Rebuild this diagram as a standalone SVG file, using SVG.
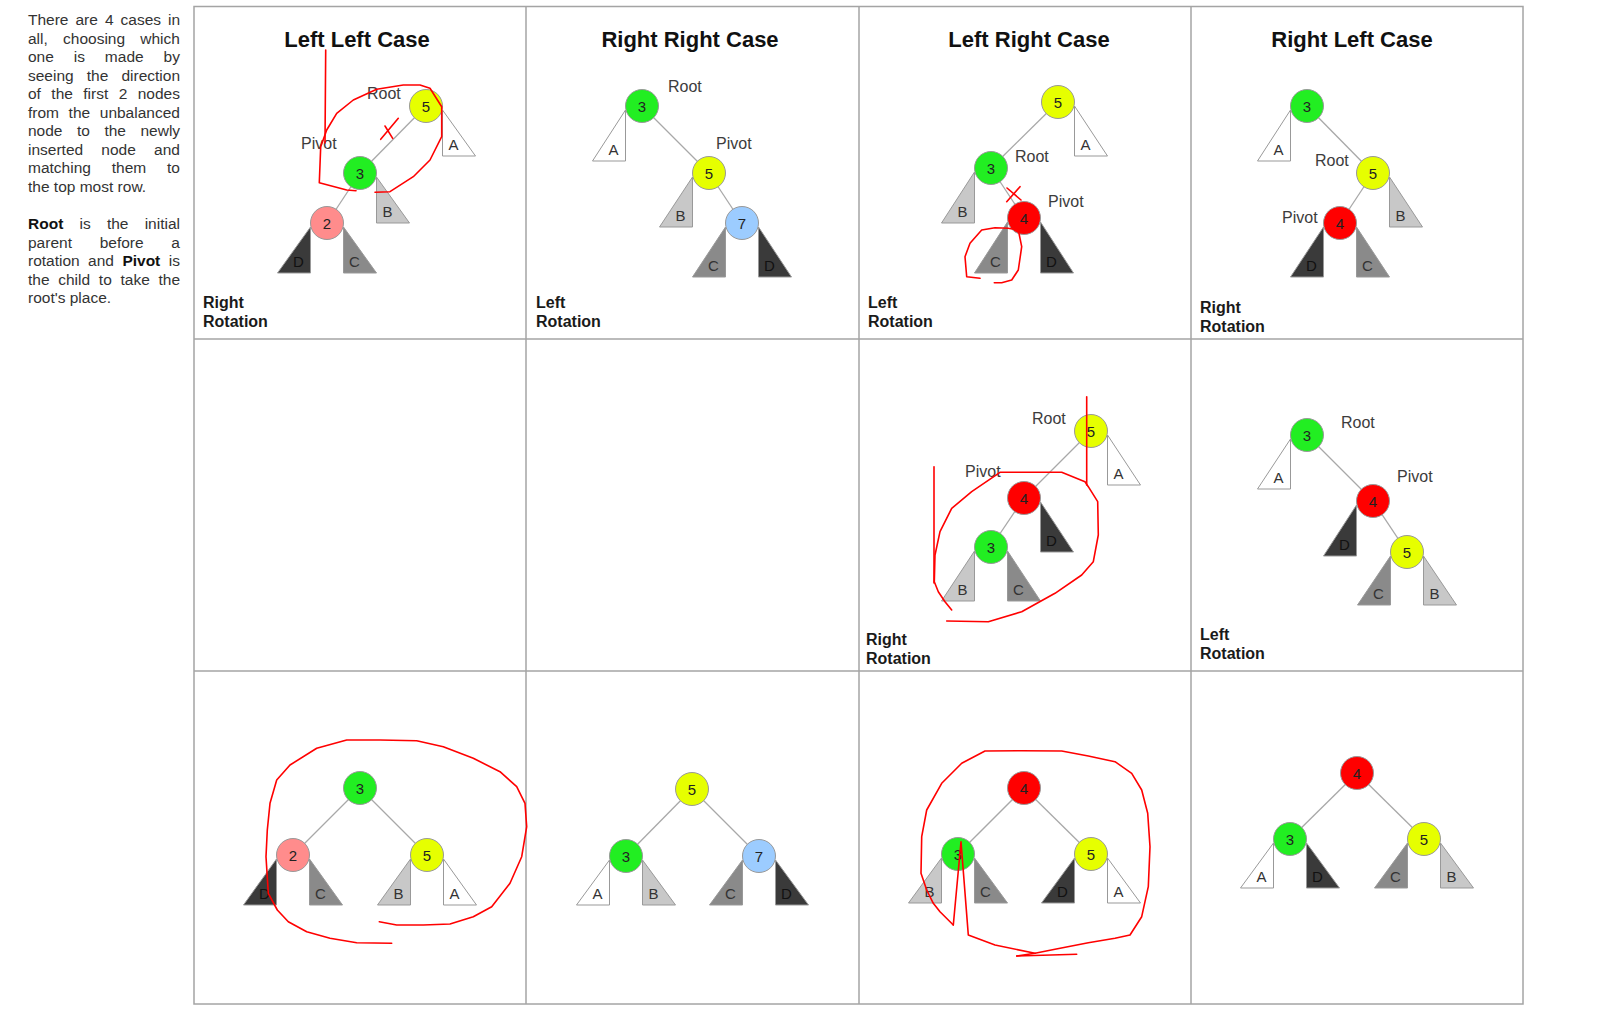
<svg xmlns="http://www.w3.org/2000/svg" width="1615" height="1017" viewBox="0 0 1615 1017">
<style>
.bg{fill:#fff}
.grid{fill:none;stroke:#a4a4a4;stroke-width:1.5}
.edge{stroke:#a8a8a8;stroke-width:1.3}
.nc{stroke:#999;stroke-width:1}
.nt{font-family:"Liberation Sans",Arial,sans-serif;font-size:15px;fill:#222;text-anchor:middle}
.tp{stroke:#999;stroke-width:1}
.tt{font-family:"Liberation Sans",Arial,sans-serif;font-size:15px;fill:#333;text-anchor:middle}
.td{fill:#111}
.y{fill:#e6ff00}.g{fill:#22ee22}.p{fill:#ff8c8c}.r{fill:#ff0000}.b{fill:#9cccff}
.fA{fill:#fff}.fB{fill:#c8c8c8}.fC{fill:#8a8a8a}.fD{fill:#3a3a3a}
.lbl{font-family:"Liberation Sans",Arial,sans-serif;font-size:16px;fill:#3c3c3c}
.title{font-family:"Liberation Sans",Arial,sans-serif;font-size:22px;font-weight:bold;fill:#111;text-anchor:middle}
.rot{font-family:"Liberation Sans",Arial,sans-serif;font-size:16px;font-weight:bold;fill:#1a1a1a}
.para{font-family:"Liberation Sans",Arial,sans-serif;font-size:15.5px;fill:#333}
.bold{font-weight:bold;fill:#111}
.red{fill:none;stroke:#ff0000;stroke-width:1.6;stroke-linejoin:round;stroke-linecap:round}
</style>
<rect class="bg" x="0" y="0" width="1615" height="1017"/>

<g id="explanation" class="para">
<text x="28" y="25" style="word-spacing:2.7px">There are 4 cases in</text>
<text x="28" y="43.5" style="word-spacing:10.9px">all, choosing which</text>
<text x="28" y="62" style="word-spacing:15.6px">one is made by</text>
<text x="28" y="80.5" style="word-spacing:8.8px">seeing the direction</text>
<text x="28" y="99" style="word-spacing:6.1px">of the first 2 nodes</text>
<text x="28" y="117.5" style="word-spacing:5.3px">from the unbalanced</text>
<text x="28" y="136" style="word-spacing:10.2px">node to the newly</text>
<text x="28" y="154.5" style="word-spacing:13.9px">inserted node and</text>
<text x="28" y="173" style="word-spacing:16.5px">matching them to</text>
<text x="28" y="191.5">the top most row.</text>
<text x="28" y="229" style="word-spacing:11.9px"><tspan class="bold">Root</tspan> is the initial</text>
<text x="28" y="247.5" style="word-spacing:23.4px">parent before a</text>
<text x="28" y="266" style="word-spacing:4.1px">rotation and <tspan class="bold">Pivot</tspan> is</text>
<text x="28" y="284.5" style="word-spacing:4.4px">the child to take the</text>
<text x="28" y="303">root's place.</text>
</g>

<g id="grid" class="grid">
<rect x="194" y="6.5" width="1329" height="997.5"/>
<line x1="526" y1="6.5" x2="526" y2="1004"/>
<line x1="859" y1="6.5" x2="859" y2="1004"/>
<line x1="1191" y1="6.5" x2="1191" y2="1004"/>
<line x1="194" y1="339" x2="1523" y2="339"/>
<line x1="194" y1="671" x2="1523" y2="671"/>
</g>

<g id="titles">
<text class="title" x="357" y="47">Left Left Case</text>
<text class="title" x="690" y="47">Right Right Case</text>
<text class="title" x="1029" y="47">Left Right Case</text>
<text class="title" x="1352" y="47">Right Left Case</text>
<text class="rot" x="203" y="308">Right</text><text class="rot" x="203" y="327">Rotation</text>
<text class="rot" x="536" y="308">Left</text><text class="rot" x="536" y="327">Rotation</text>
<text class="rot" x="868" y="308">Left</text><text class="rot" x="868" y="327">Rotation</text>
<text class="rot" x="1200" y="313">Right</text><text class="rot" x="1200" y="332">Rotation</text>
<text class="rot" x="866" y="645">Right</text><text class="rot" x="866" y="664">Rotation</text>
<text class="rot" x="1200" y="640">Left</text><text class="rot" x="1200" y="659">Rotation</text>
</g>

<g id="connectors" class="edge">
<line x1="426" y1="106" x2="360" y2="173"/><line x1="360" y1="173" x2="327" y2="223"/>
<line x1="642" y1="106" x2="709" y2="173"/><line x1="709" y1="173" x2="742" y2="223"/>
<line x1="1058" y1="102" x2="991" y2="168"/><line x1="991" y1="168" x2="1024" y2="218"/>
<line x1="1307" y1="106" x2="1373" y2="173"/><line x1="1373" y1="173" x2="1340" y2="223"/>
<line x1="1091" y1="431" x2="1024" y2="498"/><line x1="1024" y1="498" x2="991" y2="547"/>
<line x1="1307" y1="435" x2="1373" y2="501"/><line x1="1373" y1="501" x2="1407" y2="552"/>
<line x1="360" y1="788" x2="293" y2="855"/><line x1="360" y1="788" x2="427" y2="855"/>
<line x1="692" y1="789" x2="626" y2="856"/><line x1="692" y1="789" x2="759" y2="856"/>
<line x1="1024" y1="788" x2="958" y2="854"/><line x1="1024" y1="788" x2="1091" y2="854"/>
<line x1="1357" y1="773" x2="1290" y2="839"/><line x1="1357" y1="773" x2="1424" y2="839"/>
</g>

<!-- subtrees -->
<g id="subtrees">
<!-- cell 1,1 -->
<g id="t11A"><polygon class="tp fA" points="442.5,110 442.5,156 475.5,156"/><text class="tt" x="453.5" y="149.5">A</text></g>
<g id="t11B"><polygon class="tp fB" points="376.5,177 376.5,223 409.5,223"/><text class="tt" x="387.5" y="216.5">B</text></g>
<g id="t11D"><polygon class="tp fD" points="310.5,227 310.5,273 277.5,273"/><text class="tt td" x="298.5" y="266.5">D</text></g>
<g id="t11C"><polygon class="tp fC" points="343.5,227 343.5,273 376.5,273"/><text class="tt" x="354.5" y="266.5">C</text></g>
<!-- cell 1,2 -->
<g id="t12A"><polygon class="tp fA" points="625.5,110 625.5,161 592.5,161"/><text class="tt" x="613.5" y="154.5">A</text></g>
<g id="t12B"><polygon class="tp fB" points="692.5,177 692.5,227 659.5,227"/><text class="tt" x="680.5" y="220.5">B</text></g>
<g id="t12C"><polygon class="tp fC" points="725.5,227 725.5,277 692.5,277"/><text class="tt" x="713.5" y="270.5">C</text></g>
<g id="t12D"><polygon class="tp fD" points="758.5,227 758.5,277 791.5,277"/><text class="tt td" x="769.5" y="270.5">D</text></g>
<!-- cell 1,3 -->
<g id="t13A"><polygon class="tp fA" points="1074.5,106 1074.5,156 1107.5,156"/><text class="tt" x="1085.5" y="149.5">A</text></g>
<g id="t13B"><polygon class="tp fB" points="974.5,172 974.5,223 941.5,223"/><text class="tt" x="962.5" y="216.5">B</text></g>
<g id="t13C"><polygon class="tp fC" points="1007.5,222 1007.5,273 974.5,273"/><text class="tt" x="995.5" y="266.5">C</text></g>
<g id="t13D"><polygon class="tp fD" points="1040.5,222 1040.5,273 1073.5,273"/><text class="tt td" x="1051.5" y="266.5">D</text></g>
<!-- cell 1,4 -->
<g id="t14A"><polygon class="tp fA" points="1290.5,110 1290.5,161 1257.5,161"/><text class="tt" x="1278.5" y="154.5">A</text></g>
<g id="t14B"><polygon class="tp fB" points="1389.5,177 1389.5,227 1422.5,227"/><text class="tt" x="1400.5" y="220.5">B</text></g>
<g id="t14D"><polygon class="tp fD" points="1323.5,227 1323.5,277 1290.5,277"/><text class="tt td" x="1311.5" y="270.5">D</text></g>
<g id="t14C"><polygon class="tp fC" points="1356.5,227 1356.5,277 1389.5,277"/><text class="tt" x="1367.5" y="270.5">C</text></g>
<!-- cell 2,3 -->
<g id="t23A"><polygon class="tp fA" points="1107.5,435 1107.5,485 1140.5,485"/><text class="tt" x="1118.5" y="478.5">A</text></g>
<g id="t23D"><polygon class="tp fD" points="1040.5,502 1040.5,552 1073.5,552"/><text class="tt td" x="1051.5" y="545.5">D</text></g>
<g id="t23B"><polygon class="tp fB" points="974.5,551 974.5,601 941.5,601"/><text class="tt" x="962.5" y="594.5">B</text></g>
<g id="t23C"><polygon class="tp fC" points="1007.5,551 1007.5,601 1040.5,601"/><text class="tt" x="1018.5" y="594.5">C</text></g>
<!-- cell 2,4 -->
<g id="t24A"><polygon class="tp fA" points="1290.5,439 1290.5,489 1257.5,489"/><text class="tt" x="1278.5" y="482.5">A</text></g>
<g id="t24D"><polygon class="tp fD" points="1356.5,505 1356.5,556 1323.5,556"/><text class="tt td" x="1344.5" y="549.5">D</text></g>
<g id="t24C"><polygon class="tp fC" points="1390.5,556 1390.5,605 1357.5,605"/><text class="tt" x="1378.5" y="598.5">C</text></g>
<g id="t24B"><polygon class="tp fB" points="1423.5,556 1423.5,605 1456.5,605"/><text class="tt" x="1434.5" y="598.5">B</text></g>
<!-- cell 3,1 -->
<g id="t31D"><polygon class="tp fD" points="276.5,859 276.5,905 243.5,905"/><text class="tt td" x="264.5" y="898.5">D</text></g>
<g id="t31C"><polygon class="tp fC" points="309.5,859 309.5,905 342.5,905"/><text class="tt" x="320.5" y="898.5">C</text></g>
<g id="t31B"><polygon class="tp fB" points="410.5,859 410.5,905 377.5,905"/><text class="tt" x="398.5" y="898.5">B</text></g>
<g id="t31A"><polygon class="tp fA" points="443.5,859 443.5,905 476.5,905"/><text class="tt" x="454.5" y="898.5">A</text></g>
<!-- cell 3,2 -->
<g id="t32A"><polygon class="tp fA" points="609.5,860 609.5,905 576.5,905"/><text class="tt" x="597.5" y="898.5">A</text></g>
<g id="t32B"><polygon class="tp fB" points="642.5,860 642.5,905 675.5,905"/><text class="tt" x="653.5" y="898.5">B</text></g>
<g id="t32C"><polygon class="tp fC" points="742.5,860 742.5,905 709.5,905"/><text class="tt" x="730.5" y="898.5">C</text></g>
<g id="t32D"><polygon class="tp fD" points="775.5,860 775.5,905 808.5,905"/><text class="tt td" x="786.5" y="898.5">D</text></g>
<!-- cell 3,3 -->
<g id="t33B"><polygon class="tp fB" points="941.5,858 941.5,903 908.5,903"/><text class="tt" x="929.5" y="896.5">B</text></g>
<g id="t33C"><polygon class="tp fC" points="974.5,858 974.5,903 1007.5,903"/><text class="tt" x="985.5" y="896.5">C</text></g>
<g id="t33D"><polygon class="tp fD" points="1074.5,858 1074.5,903 1041.5,903"/><text class="tt td" x="1062.5" y="896.5">D</text></g>
<g id="t33A"><polygon class="tp fA" points="1107.5,858 1107.5,903 1140.5,903"/><text class="tt" x="1118.5" y="896.5">A</text></g>
<!-- cell 3,4 -->
<g id="t34A"><polygon class="tp fA" points="1273.5,843 1273.5,888 1240.5,888"/><text class="tt" x="1261.5" y="881.5">A</text></g>
<g id="t34D"><polygon class="tp fD" points="1306.5,843 1306.5,888 1339.5,888"/><text class="tt td" x="1317.5" y="881.5">D</text></g>
<g id="t34C"><polygon class="tp fC" points="1407.5,843 1407.5,888 1374.5,888"/><text class="tt" x="1395.5" y="881.5">C</text></g>
<g id="t34B"><polygon class="tp fB" points="1440.5,843 1440.5,888 1473.5,888"/><text class="tt" x="1451.5" y="881.5">B</text></g>
</g>

<g id="nodes">
<g id="n11-5"><circle class="nc y" cx="426" cy="106" r="16.5"/><text class="nt" x="426" y="111.5">5</text></g>
<g id="n11-3"><circle class="nc g" cx="360" cy="173" r="16.5"/><text class="nt" x="360" y="178.5">3</text></g>
<g id="n11-2"><circle class="nc p" cx="327" cy="223" r="16.5"/><text class="nt" x="327" y="228.5">2</text></g>

<g id="n12-3"><circle class="nc g" cx="642" cy="106" r="16.5"/><text class="nt" x="642" y="111.5">3</text></g>
<g id="n12-5"><circle class="nc y" cx="709" cy="173" r="16.5"/><text class="nt" x="709" y="178.5">5</text></g>
<g id="n12-7"><circle class="nc b" cx="742" cy="223" r="16.5"/><text class="nt" x="742" y="228.5">7</text></g>

<g id="n13-5"><circle class="nc y" cx="1058" cy="102" r="16.5"/><text class="nt" x="1058" y="107.5">5</text></g>
<g id="n13-3"><circle class="nc g" cx="991" cy="168" r="16.5"/><text class="nt" x="991" y="173.5">3</text></g>
<g id="n13-4"><circle class="nc r" cx="1024" cy="218" r="16.5"/><text class="nt" x="1024" y="223.5">4</text></g>

<g id="n14-3"><circle class="nc g" cx="1307" cy="106" r="16.5"/><text class="nt" x="1307" y="111.5">3</text></g>
<g id="n14-5"><circle class="nc y" cx="1373" cy="173" r="16.5"/><text class="nt" x="1373" y="178.5">5</text></g>
<g id="n14-4"><circle class="nc r" cx="1340" cy="223" r="16.5"/><text class="nt" x="1340" y="228.5">4</text></g>

<g id="n23-5"><circle class="nc y" cx="1091" cy="431" r="16.5"/><text class="nt" x="1091" y="436.5">5</text></g>
<g id="n23-4"><circle class="nc r" cx="1024" cy="498" r="16.5"/><text class="nt" x="1024" y="503.5">4</text></g>
<g id="n23-3"><circle class="nc g" cx="991" cy="547" r="16.5"/><text class="nt" x="991" y="552.5">3</text></g>

<g id="n24-3"><circle class="nc g" cx="1307" cy="435" r="16.5"/><text class="nt" x="1307" y="440.5">3</text></g>
<g id="n24-4"><circle class="nc r" cx="1373" cy="501" r="16.5"/><text class="nt" x="1373" y="506.5">4</text></g>
<g id="n24-5"><circle class="nc y" cx="1407" cy="552" r="16.5"/><text class="nt" x="1407" y="557.5">5</text></g>

<g id="n31-3"><circle class="nc g" cx="360" cy="788" r="16.5"/><text class="nt" x="360" y="793.5">3</text></g>
<g id="n31-2"><circle class="nc p" cx="293" cy="855" r="16.5"/><text class="nt" x="293" y="860.5">2</text></g>
<g id="n31-5"><circle class="nc y" cx="427" cy="855" r="16.5"/><text class="nt" x="427" y="860.5">5</text></g>

<g id="n32-5"><circle class="nc y" cx="692" cy="789" r="16.5"/><text class="nt" x="692" y="794.5">5</text></g>
<g id="n32-3"><circle class="nc g" cx="626" cy="856" r="16.5"/><text class="nt" x="626" y="861.5">3</text></g>
<g id="n32-7"><circle class="nc b" cx="759" cy="856" r="16.5"/><text class="nt" x="759" y="861.5">7</text></g>

<g id="n33-4"><circle class="nc r" cx="1024" cy="788" r="16.5"/><text class="nt" x="1024" y="793.5">4</text></g>
<g id="n33-3"><circle class="nc g" cx="958" cy="854" r="16.5"/><text class="nt" x="958" y="859.5">3</text></g>
<g id="n33-5"><circle class="nc y" cx="1091" cy="854" r="16.5"/><text class="nt" x="1091" y="859.5">5</text></g>

<g id="n34-4"><circle class="nc r" cx="1357" cy="773" r="16.5"/><text class="nt" x="1357" y="778.5">4</text></g>
<g id="n34-3"><circle class="nc g" cx="1290" cy="839" r="16.5"/><text class="nt" x="1290" y="844.5">3</text></g>
<g id="n34-5"><circle class="nc y" cx="1424" cy="839" r="16.5"/><text class="nt" x="1424" y="844.5">5</text></g>
</g>

<g id="role-labels" class="lbl">
<text x="367" y="99">Root</text><text x="301" y="149">Pivot</text>
<text x="668" y="92">Root</text><text x="716" y="149">Pivot</text>
<text x="1015" y="162">Root</text><text x="1048" y="207">Pivot</text>
<text x="1315" y="166">Root</text><text x="1282" y="223">Pivot</text>
<text x="1032" y="424">Root</text><text x="965" y="477">Pivot</text>
<text x="1341" y="428">Root</text><text x="1397" y="482">Pivot</text>
</g>

<g id="annotations" class="red">
<path d="M325.7,50 L325,143"/>
<path d="M356,190.7 L346.7,190 L319.3,182.7 L320.7,146.7 L326.7,130 L336.7,113.3 L353.3,100 L376.7,89.3 L403.3,85 L420,85 L430,88.3 L441.7,106.7 L441.7,136.7 L430,160 L413.3,176.7 L390,191.7 L375,192.3"/>
<path d="M380.7,139.3 L398.3,118.3 M385,126 L392.7,138.3"/>
<path d="M1006.7,201.7 L1020,186.7 M1007,188 L1021,200"/>
<path d="M980,278.3 L966.7,276.7 L965,256.7 L970,243.3 L981.7,230 L995,227.7 L1008.3,228.3 L1018.3,230 L1021.7,246.7 L1018.3,270 L1011.7,280 L1001.7,282.7 L994.3,282.7"/>
<path d="M1086.7,396.7 L1086.7,485"/>
<path d="M934,466.7 L934,583"/>
<path d="M951.7,610 L945,601.7 L938.3,591.7 L934.3,581.7 L935,555 L940,531.7 L951.7,508.3 L971.7,491.7 L1000,472.3 L1061.7,472.3 L1085,481.7 L1088.3,486.7 L1097.7,501.7 L1098.3,535 L1093.3,561.7 L1081.7,575 L1055,593.3 L1021.7,611.7 L988.3,621.7 L946.7,621"/>
<path d="M391.7,943.3 L356.7,942.7 L330,938.3 L306.7,931.7 L288.3,921.7 L277.3,910 L268.3,893.3 L266,856.7 L267.3,830 L270,803.3 L276.7,780 L290,765 L316.7,748.3 L346.7,740 L380,740 L416.7,740.7 L443.3,746.7 L473.3,758.3 L500,771.7 L516.7,786.7 L525,803.3 L526.7,826.7 L521.7,856.7 L510,883.3 L491.7,906.7 L473.3,916.7 L450,924 L423.3,925 L396.7,925 L379.3,921.7"/>
<path d="M953.3,925 L940,911.7 L933.3,903.3 L926.7,890 L921,873.3 L921.7,836.7 L926.7,810 L941.7,783.3 L961.7,763.3 L985,751 L1021.7,750.7 L1061.7,751 L1088.3,756 L1115,761.7 L1131.7,773.3 L1141.7,790 L1147.7,813.3 L1150,846.7 L1148.3,886.7 L1141.7,916.7 L1130,935 L1115,938.3 L1088.3,942.7 L1055,949.3 L1035,953.3 L1016.7,956"/>
<path d="M953.3,925 L961,841.7 L968.3,935 L995,945 L1035,953.3"/>
<path d="M1016.7,956 L1076.7,954.3"/>
</g>
</svg>
